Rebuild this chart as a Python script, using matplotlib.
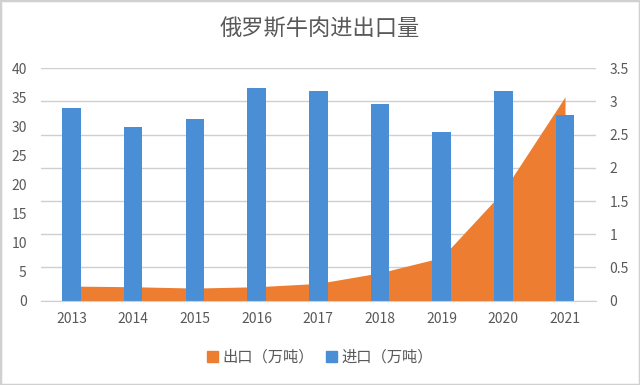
import numpy as np
import matplotlib
matplotlib.use('Agg')
import matplotlib.pyplot as plt
from matplotlib.patches import Rectangle, Patch

plt.rcParams['font.family'] = ['Noto Sans CJK SC', 'DejaVu Sans']

years = ['2013', '2014', '2015', '2016', '2017', '2018', '2019', '2020', '2021']
imports = [33.1, 29.9, 31.3, 36.6, 36.1, 33.9, 29.0, 36.1, 32.0]   # 左轴
exports = [0.22, 0.21, 0.19, 0.21, 0.26, 0.42, 0.65, 1.65, 3.07]  # 右轴

blue = '#4a8fd6'
orange = '#ed7d31'
grey = '#595959'

fig = plt.figure(figsize=(6.4, 3.85), dpi=100)
ax = fig.add_axes([0.0636, 0.219, 0.8674, 0.6036])
ax2 = ax.twinx()

x = np.arange(len(years))

# area behind, bars in front
ax2.set_axisbelow(True)
ax2.fill_between(x, exports, 0, color=orange, lw=0, zorder=2)
ax2.set_ylim(0, 3.5)
ax2.set_yticks(np.arange(0, 3.51, 0.5))
ax2.set_yticklabels(['0', '0.5', '1', '1.5', '2', '2.5', '3', '3.5'])

ax.set_zorder(ax2.get_zorder() + 1)
ax.patch.set_visible(False)
ax.bar(x, imports, width=0.3, color=blue)
ax.set_ylim(0, 40)
ax.set_yticks(range(0, 41, 5))
ax.set_xlim(-0.5, len(years) - 0.5)
ax.set_xticks(x)
ax.set_xticklabels(years)

for a in (ax, ax2):
    for s in a.spines.values():
        s.set_visible(False)
    a.tick_params(length=0, labelsize=10, colors=grey)
ax2.yaxis.grid(True, color='#cfcfcf', lw=1)
ax.spines['bottom'].set_visible(True)
ax.spines['bottom'].set_color('#cfcfcf')
ax.tick_params(axis='x', pad=8)
ax.tick_params(axis='y', pad=10)
ax2.tick_params(axis='y', pad=10)

fig.text(0.5, 0.925, '俄罗斯牛肉进出口量', ha='center', va='center',
         fontsize=16, color=grey)

handles = [Patch(color=orange, label='出口（万吨）'),
           Patch(color=blue, label='进口（万吨）')]
fig.legend(handles=handles, loc='center', bbox_to_anchor=(0.5, 0.072),
           ncol=2, frameon=False, fontsize=11, handlelength=0.7,
           handleheight=0.7, handletextpad=0.3, columnspacing=0.8,
           labelcolor=grey)

fig.patches.append(Rectangle((0, 0), 1, 1, transform=fig.transFigure,
                             fill=False, ec='#d0d0d0', lw=2.5))

fig.savefig('out.png', dpi=100)
